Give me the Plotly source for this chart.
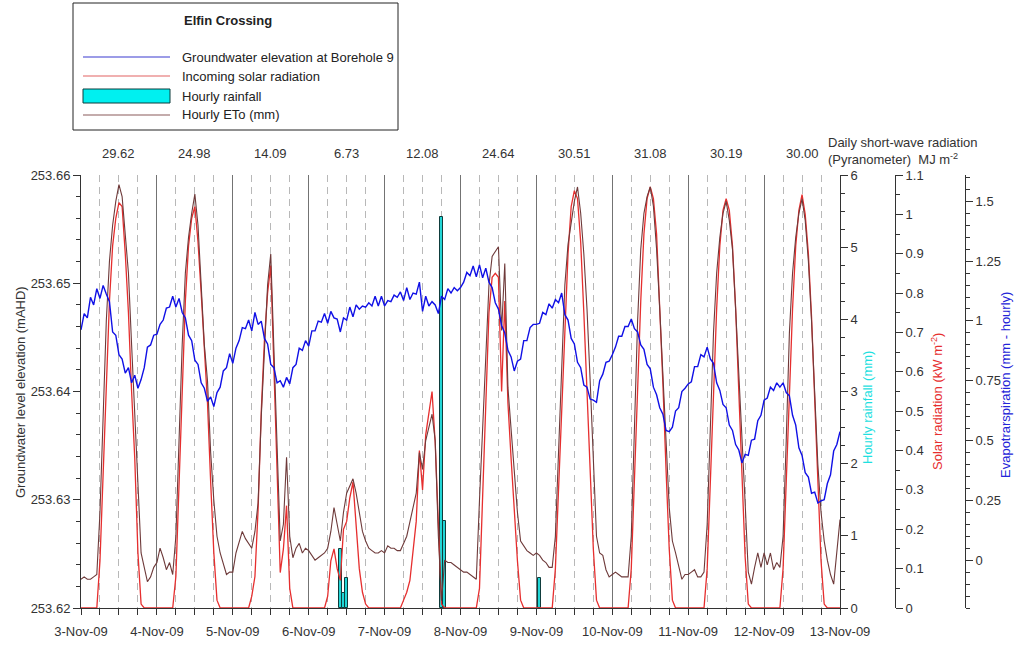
import pandas as pd
import plotly.graph_objects as go

# ---------------------------------------------------------------- data
day_dates = ["2009-11-03", "2009-11-04", "2009-11-05", "2009-11-06", "2009-11-07",
             "2009-11-08", "2009-11-09", "2009-11-10", "2009-11-11", "2009-11-12",
             "2009-11-13"]
day_labels = ["3-Nov-09", "4-Nov-09", "5-Nov-09", "6-Nov-09", "7-Nov-09", "8-Nov-09",
              "9-Nov-09", "10-Nov-09", "11-Nov-09", "12-Nov-09", "13-Nov-09"]

# daily short-wave radiation totals (MJ m-2), one per day
daily_radiation = ["29.62", "24.98", "14.09", "6.73", "12.08",
                   "24.64", "30.51", "31.08", "30.19", "30.00"]

# hourly time stamps, 3-Nov-09 00:00 .. 13-Nov-09 00:00
hours = pd.date_range("2009-11-03 00:00", "2009-11-13 00:00", freq="h")

# groundwater elevation at borehole 9 (mAHD), hourly
groundwater = [
    253.6457, 253.6472, 253.6468, 253.6487, 253.6480, 253.6495, 253.6486, 253.6498, 253.6490, 253.6483, 253.6455, 253.6452,
    253.6434, 253.6430, 253.6417, 253.6422, 253.6408, 253.6415, 253.6403, 253.6411, 253.6422, 253.6441, 253.6443, 253.6452,
    253.6453, 253.6462, 253.6466, 253.6477, 253.6478, 253.6488, 253.6478, 253.6486, 253.6473, 253.6468, 253.6452, 253.6447,
    253.6429, 253.6425, 253.6408, 253.6403, 253.6391, 253.6395, 253.6386, 253.6399, 253.6404, 253.6419, 253.6422, 253.6435,
    253.6426, 253.6440, 253.6447, 253.6459, 253.6458, 253.6466, 253.6456, 253.6473, 253.6462, 253.6465, 253.6449, 253.6444,
    253.6425, 253.6422, 253.6408, 253.6410, 253.6404, 253.6413, 253.6407, 253.6422, 253.6425, 253.6440, 253.6438, 253.6447,
    253.6442, 253.6456, 253.6456, 253.6465, 253.6464, 253.6472, 253.6463, 253.6474, 253.6468, 253.6467, 253.6455, 253.6468,
    253.6466, 253.6478, 253.6469, 253.6480, 253.6476, 253.6479, 253.6478, 253.6482, 253.6479, 253.6488, 253.6479, 253.6488,
    253.6479, 253.6484, 253.6483, 253.6489, 253.6487, 253.6492, 253.6484, 253.6496, 253.6485, 253.6491, 253.6490, 253.6501,
    253.6474, 253.6488, 253.6479, 253.6483, 253.6480, 253.6472, 253.6488, 253.6485, 253.6495, 253.6491, 253.6496, 253.6493,
    253.6496, 253.6501, 253.6510, 253.6507, 253.6516, 253.6506, 253.6517, 253.6505, 253.6514, 253.6501, 253.6496, 253.6482,
    253.6476, 253.6461, 253.6454, 253.6438, 253.6432, 253.6419, 253.6428, 253.6430, 253.6447, 253.6447, 253.6459, 253.6462,
    253.6462, 253.6463, 253.6473, 253.6471, 253.6481, 253.6477, 253.6485, 253.6482, 253.6491, 253.6471, 253.6466, 253.6449,
    253.6444, 253.6427, 253.6422, 253.6406, 253.6404, 253.6393, 253.6392, 253.6390, 253.6410, 253.6416, 253.6427, 253.6428,
    253.6434, 253.6441, 253.6451, 253.6451, 253.6460, 253.6460, 253.6467, 253.6458, 253.6455, 253.6443, 253.6439, 253.6425,
    253.6421, 253.6404, 253.6397, 253.6385, 253.6379, 253.6364, 253.6363, 253.6367, 253.6382, 253.6385, 253.6400, 253.6403,
    253.6407, 253.6409, 253.6423, 253.6423, 253.6434, 253.6432, 253.6441, 253.6430, 253.6426, 253.6408, 253.6401, 253.6388,
    253.6385, 253.6369, 253.6364, 253.6351, 253.6346, 253.6334, 253.6342, 253.6341, 253.6355, 253.6356, 253.6373, 253.6378,
    253.6392, 253.6394, 253.6404, 253.6401, 253.6408, 253.6404, 253.6408, 253.6399, 253.6396, 253.6378, 253.6369, 253.6348,
    253.6341, 253.6325, 253.6321, 253.6306, 253.6307, 253.6297, 253.6299, 253.6300, 253.6315, 253.6323, 253.6345, 253.6351,
    253.6363,
]

# incoming solar radiation (kW m-2), hourly
solar = [
    0, 0, 0, 0, 0, 0, 0.12, 0.35, 0.58, 0.78, 0.92, 0.99, 1.03, 1.02, 0.90, 0.75, 0.55, 0.38, 0.14, 0.01, 0, 0, 0, 0,
    0, 0, 0, 0, 0, 0, 0.08, 0.30, 0.55, 0.78, 0.92, 0.99, 1.02, 0.93, 0.80, 0.65, 0.52, 0.32, 0.14, 0.02, 0, 0, 0, 0,
    0, 0, 0, 0, 0, 0, 0.03, 0.08, 0.25, 0.50, 0.68, 0.80, 0.87, 0.60, 0.30, 0.09, 0.15, 0.26, 0.05, 0, 0, 0, 0, 0,
    0, 0, 0, 0, 0, 0, 0.03, 0.12, 0.15, 0.10, 0.07, 0.20, 0.22, 0.28, 0.32, 0.22, 0.10, 0.04, 0.01, 0, 0, 0, 0, 0,
    0, 0, 0, 0, 0, 0, 0.02, 0.04, 0.07, 0.14, 0.22, 0.40, 0.30, 0.44, 0.50, 0.55, 0.42, 0.20, 0.01, 0, 0, 0, 0, 0,
    0, 0, 0, 0, 0, 0, 0.05, 0.30, 0.53, 0.75, 0.84, 0.85, 0.84, 0.55, 0.78, 0.52, 0.38, 0.24, 0.12, 0.02, 0, 0, 0, 0,
    0, 0, 0, 0, 0, 0, 0.10, 0.30, 0.48, 0.68, 0.90, 1.02, 1.06, 1.04, 0.93, 0.75, 0.55, 0.35, 0.15, 0.02, 0, 0, 0, 0,
    0, 0, 0, 0, 0, 0, 0.10, 0.33, 0.57, 0.78, 0.95, 1.04, 1.07, 1.04, 0.95, 0.78, 0.57, 0.35, 0.15, 0.02, 0, 0, 0, 0,
    0, 0, 0, 0, 0, 0, 0.10, 0.32, 0.55, 0.76, 0.92, 1.01, 1.04, 1.01, 0.92, 0.76, 0.55, 0.33, 0.13, 0.01, 0, 0, 0, 0,
    0, 0, 0, 0, 0, 0, 0.10, 0.32, 0.55, 0.76, 0.92, 1.01, 1.05, 1.00, 0.90, 0.74, 0.53, 0.32, 0.12, 0.01, 0, 0, 0, 0,
    0,
]

# hourly reference evapotranspiration ETo (mm)
eto = [
    -0.08, -0.07, -0.08, -0.08, -0.07, -0.06, 0.20, 0.60, 1.00, 1.25, 1.40, 1.50, 1.57, 1.52, 1.35, 1.20, 0.90, 0.60, 0.37, 0.03, -0.03, -0.09, -0.07, -0.03,
    -0.01, 0.05, 0.01, -0.04, -0.01, -0.06, 0.10, 0.50, 0.90, 1.20, 1.35, 1.45, 1.53, 1.40, 1.15, 0.90, 0.75, 0.45, 0.25, 0.10, 0.03, -0.02, -0.06, -0.05,
    -0.05, 0.03, 0.08, 0.12, 0.09, 0.07, 0.05, 0.12, 0.24, 0.60, 0.90, 1.15, 1.28, 0.85, 0.45, 0.08, 0.15, 0.43, 0.10, 0.01, 0.05, 0.07, 0.03, 0.05,
    0.04, 0.02, 0.00, 0.01, 0.02, 0.03, 0.05, 0.12, 0.22, 0.15, 0.08, 0.20, 0.28, 0.31, 0.34, 0.28, 0.20, 0.12, 0.08, 0.05, 0.04, 0.03, 0.03, 0.04,
    0.03, 0.06, 0.05, 0.05, 0.04, 0.04, 0.07, 0.10, 0.16, 0.22, 0.28, 0.45, 0.38, 0.50, 0.56, 0.61, 0.50, 0.10, -0.17, 0.00, -0.01, -0.01, -0.02, -0.03,
    -0.04, -0.05, -0.05, -0.06, -0.07, -0.08, 0.25, 0.55, 0.90, 1.15, 1.27, 1.29, 1.31, 0.96, 1.24, 0.72, 0.55, 0.35, 0.20, 0.08, 0.06, 0.04, 0.03, 0.02,
    0.03, 0.02, 0.00, -0.01, -0.03, -0.03, 0.10, 0.45, 0.80, 1.15, 1.32, 1.42, 1.50, 1.56, 1.45, 1.28, 1.05, 0.75, 0.45, 0.10, 0.03, 0.02, -0.04, -0.07,
    -0.06, -0.05, -0.06, -0.07, -0.07, -0.07, 0.10, 0.55, 1.00, 1.30, 1.45, 1.52, 1.56, 1.48, 1.30, 1.05, 0.80, 0.50, 0.22, 0.08, 0.03, -0.03, -0.08, -0.06,
    -0.06, -0.05, -0.04, -0.07, -0.07, -0.05, 0.15, 0.55, 0.95, 1.20, 1.35, 1.45, 1.50, 1.42, 1.30, 1.05, 0.80, 0.50, 0.24, -0.05, -0.10, -0.03, 0.03, -0.03,
    0.03, -0.02, 0.03, -0.04, -0.01, -0.03, 0.10, 0.50, 0.95, 1.20, 1.35, 1.45, 1.51, 1.42, 1.25, 1.00, 0.70, 0.40, 0.20, 0.08, 0.00, -0.06, -0.10, 0.05,
    0.17,
]

# hourly rainfall (mm)
rain_times = ["2009-11-06 10:00", "2009-11-06 11:00", "2009-11-06 12:00",
              "2009-11-07 18:00", "2009-11-07 19:00", "2009-11-09 01:00"]
rain_mm = [0.82, 0.21, 0.42, 5.42, 1.21, 0.42]

# ---------------------------------------------------------------- style
FONT = "Liberation Sans, Arial, sans-serif"
INK = "#333333"
C_GW = "#1010e6"
C_SOLAR = "#e62e2e"
C_ETO = "#6e3a3a"
C_RAIN = "#22d6d6"
C_RAIN_EDGE = "#0f3c3c"

X_END = (840 - 81) / 934          # right end of the time axis (paper units)
POS_SOLAR = (895 - 81) / 934
POS_ETO = (965 - 81) / 934
PH = 433.0                         # plot height in px


def py(px):
    """paper y from a pixel row"""
    return (608 - px) / PH


def pxx(px):
    """paper x from a pixel column"""
    return (px - 81) / 934


six_hourly = [f"{d} {h}" for d in day_dates[:-1] for h in ("06:00", "12:00", "18:00")]

fig = go.Figure()

fig.add_trace(go.Bar(
    x=rain_times, y=rain_mm, yaxis="y", width=3600000,
    marker=dict(color=C_RAIN, line=dict(color=C_RAIN_EDGE, width=1)),
    name="Hourly rainfall", showlegend=False,
))
fig.add_trace(go.Scatter(
    x=hours, y=solar, yaxis="y2", mode="lines",
    line=dict(color=C_SOLAR, width=1.3), name="Incoming solar radiation", showlegend=False,
))
fig.add_trace(go.Scatter(
    x=hours, y=eto, yaxis="y3", mode="lines",
    line=dict(color=C_ETO, width=1.1), name="Hourly ETo (mm)", showlegend=False,
))
fig.add_trace(go.Scatter(
    x=hours, y=groundwater, yaxis="y4", mode="lines",
    line=dict(color=C_GW, width=1.4), name="Groundwater elevation at Borehole 9", showlegend=False,
))

tickfont = dict(family=FONT, size=13, color=INK)
common_y = dict(showgrid=False, zeroline=False, showline=True, linecolor=INK, linewidth=1,
                ticks="outside", ticklen=7, tickcolor=INK, tickfont=tickfont, automargin=False)

fig.update_layout(
    width=1015, height=645,
    margin=dict(l=81, r=0, t=175, b=37, autoexpand=False),
    paper_bgcolor="white", plot_bgcolor="white",
    font=dict(family=FONT, size=13, color=INK),
    bargap=0,
    xaxis=dict(
        domain=[0, X_END], type="date", range=[day_dates[0], day_dates[-1]],
        tickmode="array", tickvals=day_dates, ticktext=day_labels,
        ticks="outside", ticklen=6, tickcolor=INK, tickfont=tickfont,
        ticklabelstandoff=5, automargin=False,
        showline=True, linecolor=INK, linewidth=1,
        showgrid=True, gridcolor="#737373", gridwidth=1, zeroline=False,
        minor=dict(tickmode="array", tickvals=six_hourly, ticks="outside", ticklen=6,
                   tickcolor=INK, showgrid=True, gridcolor="#b8b8b8", gridwidth=1,
                   griddash="7px,5px"),
    ),
    yaxis=dict(**common_y, side="right", anchor="x", range=[0, 6], dtick=1,
               minor=dict(dtick=0.25, ticks="outside", ticklen=4, tickcolor=INK)),
    yaxis2=dict(**common_y, side="right", overlaying="y", anchor="free", position=POS_SOLAR,
                range=[0, 1.1], dtick=0.1, tick0=0,
                minor=dict(dtick=0.05, ticks="outside", ticklen=4, tickcolor=INK)),
    yaxis3=dict(**common_y, side="right", overlaying="y", anchor="free", position=POS_ETO,
                range=[-0.2, 1.61], tickmode="array",
                tickvals=[0, 0.25, 0.5, 0.75, 1, 1.25, 1.5],
                ticktext=["0", "0.25", "0.5", "0.75", "1", "1.25", "1.5"],
                minor=dict(tickmode="linear", tick0=0, dtick=0.05, ticks="outside",
                           ticklen=4, tickcolor=INK)),
    yaxis4=dict(**common_y, side="left", overlaying="y", anchor="x",
                range=[253.62, 253.66], dtick=0.01, tickformat=".2f",
                minor=dict(dtick=0.002, ticks="outside", ticklen=4, tickcolor=INK)),
)

ann = []
# axis titles
ann.append(dict(x=pxx(20), y=py(392), text="Groundwater level elevation (mAHD)",
                textangle=-90, font=dict(size=13, color=INK)))
ann.append(dict(x=pxx(867), y=py(408), text="Hourly rainfall (mm)",
                textangle=-90, font=dict(size=13, color="#1ee0e0")))
ann.append(dict(x=pxx(937), y=py(402), text="Solar radiation (kW m<sup>-2</sup>)",
                textangle=-90, font=dict(size=13, color=C_SOLAR)))
ann.append(dict(x=pxx(1005), y=py(385), text="Evapotrarspiration (mm - hourly)",
                textangle=-90, font=dict(size=13, color="#2424d8")))
for a in ann:
    a.update(xref="paper", yref="paper", showarrow=False, xanchor="center", yanchor="middle")

# daily radiation totals above each day
for d, v in zip(day_dates[:-1], daily_radiation):
    ann.append(dict(x=f"{d} 12:00", y=py(153), xref="x", yref="paper", text=v,
                    showarrow=False, xanchor="center", yanchor="middle",
                    font=dict(size=13, color=INK)))
ann.append(dict(x=pxx(826), y=py(143), xref="paper", yref="paper",
                text="Daily short-wave radiation", showarrow=False,
                xanchor="left", yanchor="middle", font=dict(size=13, color=INK)))
ann.append(dict(x=pxx(826), y=py(159), xref="paper", yref="paper",
                text="(Pyranometer)  MJ m<sup>-2</sup>", showarrow=False,
                xanchor="left", yanchor="middle", font=dict(size=13, color=INK)))

# key box
shapes = [dict(type="rect", xref="paper", yref="paper",
               x0=pxx(73), x1=pxx(398), y0=py(130), y1=py(3),
               line=dict(color="#222222", width=1), fillcolor="white", layer="above")]
ann.append(dict(x=pxx(228), y=py(21), xref="paper", yref="paper",
                text="<b>Elfin Crossing</b>", showarrow=False,
                xanchor="center", yanchor="middle", font=dict(size=13, color="#222222")))
key_rows = [
    ("Groundwater elevation at Borehole 9", 57, "line", "#3b3bd0"),
    ("Incoming solar radiation", 76, "line", "#e26262"),
    ("Hourly rainfall", 96, "rect", C_RAIN),
    ("Hourly ETo (mm)", 115, "line", "#8a5a5a"),
]
for label, row, kind, col in key_rows:
    if kind == "line":
        shapes.append(dict(type="line", xref="paper", yref="paper",
                           x0=pxx(83), x1=pxx(170), y0=py(row), y1=py(row),
                           line=dict(color=col, width=1.2), layer="above"))
    else:
        shapes.append(dict(type="rect", xref="paper", yref="paper",
                           x0=pxx(83), x1=pxx(170), y0=py(row + 7), y1=py(row - 7),
                           fillcolor="#00f0f0", line=dict(color=C_RAIN_EDGE, width=1),
                           layer="above"))
    ann.append(dict(x=pxx(180), y=py(row), xref="paper", yref="paper", text=label,
                    showarrow=False, xanchor="left", yanchor="middle",
                    font=dict(size=13, color="#222222")))

fig.update_layout(annotations=ann, shapes=shapes)

fig.write_html("out.html")
